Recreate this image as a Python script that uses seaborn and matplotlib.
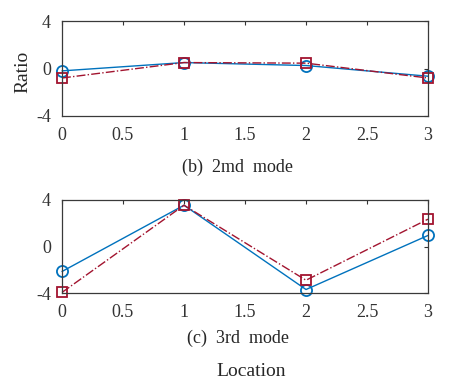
import matplotlib
matplotlib.use("Agg")
import matplotlib.pyplot as plt
import seaborn as sns
import numpy as np

sns.set_theme(style="white")
plt.rcParams['font.family'] = ['Liberation Serif', 'DejaVu Serif']

location = [0, 1, 2, 3]
mode2_a = [-0.2, 0.5, 0.25, -0.65]
mode2_b = [-0.8, 0.5, 0.45, -0.8]
mode3_a = [-2.15, 3.55, -3.7, 0.95]
mode3_b = [-3.95, 3.55, -2.9, 2.35]
xticks = [0, 0.5, 1, 1.5, 2, 2.5, 3]
yticks = [-4, 0, 4]

BLUE = '#0072BD'
RED = '#A2142F'
W, H = 450, 392

fig = plt.figure(figsize=(4.5, 3.92), dpi=100)

def make_ax(top, bottom):
    return fig.add_axes([62 / W, 1 - bottom / H, (428 - 62) / W, (bottom - top) / H])

ax1 = make_ax(21, 116)
ax2 = make_ax(200, 293)

for ax, ya, yb in [(ax1, mode2_a, mode2_b), (ax2, mode3_a, mode3_b)]:
    sns.lineplot(x=location, y=ya, ax=ax, color=BLUE, linestyle='-', linewidth=1.0,
                 marker='o', markersize=8, markerfacecolor='none',
                 markeredgecolor=BLUE, markeredgewidth=1.3, clip_on=False)
    sns.lineplot(x=location, y=yb, ax=ax, color=RED, linestyle='-.', linewidth=1.0,
                 marker='s', markersize=7.5, markerfacecolor='none',
                 markeredgecolor=RED, markeredgewidth=1.3, clip_on=False)
    ax.set_xlim(0, 3)
    ax.set_ylim(-4, 4)
    ax.set_xticks(xticks)
    ax.set_xticklabels([f"{t:g}" for t in xticks])
    ax.set_yticks(yticks)
    ax.set_yticklabels([f"{t:g}" for t in yticks])
    ax.tick_params(direction='in', length=3, width=0.8, top=True, right=True,
                   labelsize=13, colors='#333333')
    ax.tick_params(axis='x', pad=8)
    ax.tick_params(axis='y', pad=8)
    for s in ax.spines.values():
        s.set_color('#3a3a3a')
        s.set_linewidth(0.9)
    ax.grid(False)

fig.text(238 / W, 1 - 167 / H, '(b)  2md  mode', ha='center', va='center', fontsize=13, color='#262626')
fig.text(238 / W, 1 - 338 / H, '(c)  3rd  mode', ha='center', va='center', fontsize=13, color='#262626')
fig.text(251 / W, 1 - 372 / H, 'Location', ha='center', va='center', fontsize=14, color='#262626')
fig.text(23 / W, 1 - 72 / H, 'Ratio', ha='center', va='center', rotation=90, fontsize=14, color='#262626')

fig.savefig('out.png', dpi=100)
